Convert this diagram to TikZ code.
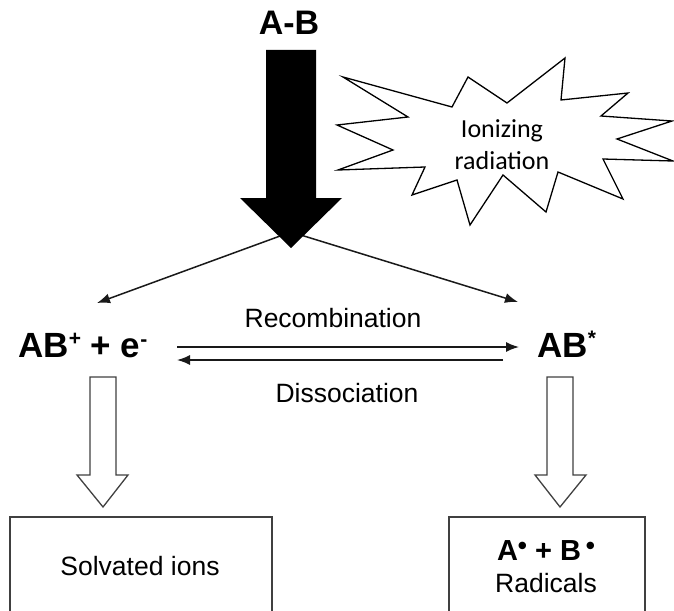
\documentclass[tikz,border=0pt]{standalone}
\usepackage{fontspec}
\setmainfont{Liberation Sans}
\newfontfamily\calib{Carlito}
\usetikzlibrary{arrows.meta}
\newcommand{\supr}[2]{\raisebox{#1}{\fontsize{21}{21}\selectfont #2}}
\newcommand{\rdot}{\raisebox{6pt}{\fontsize{26}{26}\selectfont\textbullet}}
\begin{document}
\begin{tikzpicture}[x=1pt,y=-1pt,
  lbl/.style={inner sep=0pt, anchor=base},
  big/.style={font=\fontsize{35}{40}\selectfont\bfseries},
  txt/.style={font=\fontsize{26.5}{30}\selectfont},
  thinarrow/.style={line width=1.5pt, draw=black!90, -{Latex[length=13pt,width=10pt]}},
  hollow/.style={draw=black!75, line width=1.3pt, fill=white, line join=miter},
  boxst/.style={draw=black!75, line width=1.5pt, inner sep=0pt, anchor=north west}]
\useasboundingbox (0,0) rectangle (674,610);

% coordinates
\coordinate (src) at (291,232);
\coordinate (ltip) at (97,303);
\coordinate (rtip) at (518,302);
\coordinate (f1) at (177,347);
\coordinate (f2) at (519,347);
\coordinate (b1) at (503,360);
\coordinate (b2) at (177,360);

% thin arrows from the big arrow
\draw[thinarrow] (src) -- (ltip);
\draw[thinarrow] (src) -- (rtip);

% big black arrow
\fill[black] (266,50) -- (316,50) -- (316,198) -- (342,198) -- (291,248) -- (240,198) -- (266,198) -- cycle;

% title
\node[lbl, font=\fontsize{34}{38}\selectfont\bfseries] (ab) at (289,35) {A-B};

% starburst
\draw[line width=1.3pt, line join=miter, fill=white]
 (343,77) -- (452,107) -- (468,77) -- (507,103) -- (565,58) -- (561,100)
 -- (628,93) -- (601,116) -- (672,121) -- (617,139) -- (673,161) -- (603,159)
 -- (623,199) -- (558,172) -- (546,212) -- (503,175) -- (470,225) -- (457,180)
 -- (412,195) -- (425,167) -- (338,170) -- (393,150) -- (337,125) -- (408,117) -- cycle;
\node[lbl, font=\calib\fontsize{26}{30}\selectfont] (ion1) at (502,137) {Ionizing};
\node[lbl, font=\calib\fontsize{26}{30}\selectfont] (ion2) at (502,169) {radiation};

% species
\node[lbl, big, anchor=base west] (abp) at (18,357) {AB\supr{12pt}{+} + e\supr{11pt}{-}};
\node[lbl, big, anchor=base west] (abs) at (537,357) {AB\supr{12pt}{*}};

% equilibrium arrows
\draw[thinarrow] (f1) -- (f2);
\draw[thinarrow] (b1) -- (b2);
\node[lbl, txt] (rec) at (333,327) {Recombination};
\node[lbl, txt] (dis) at (347,402) {Dissociation};

% hollow arrows
\draw[hollow] (90,377) -- (116,377) -- (116,475) -- (128,475) -- (103,507) -- (77,475) -- (90,475) -- cycle;
\draw[hollow] (547,377) -- (573,377) -- (573,475) -- (586,475) -- (560,507) -- (535,475) -- (547,475) -- cycle;

% boxes
\node[boxst, minimum width=262pt, minimum height=120pt] (ions) at (9,516) {};
\node[boxst, minimum width=196pt, minimum height=120pt] (rad) at (448,516) {};
\node[lbl, txt] (ionst) at (140,575) {Solvated ions};
\node[lbl, font=\fontsize{29}{32}\selectfont\bfseries] (radf) at (546,560) {A\rdot{} + B\,\rdot};
\node[lbl, txt] (radt) at (546,592) {Radicals};
\end{tikzpicture}
\end{document}
